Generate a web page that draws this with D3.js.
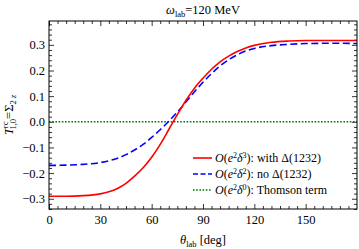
<!DOCTYPE html>
<html>
<head>
<meta charset="utf-8">
<script src="https://cdn.jsdelivr.net/npm/d3@7"></script>
<style>
  body { margin: 0; background: #fff; }
  svg text { font-family: "Liberation Serif", "DejaVu Serif", serif; fill: #000; }
  .tick line { stroke: #000; stroke-width: 0.8; }
</style>
</head>
<body>
<div id="chart"></div>
<script>
// data
var angles = [0, 10, 20, 30, 35, 40, 45, 50, 55, 60, 65, 70, 75, 80, 85, 90, 95, 100, 105, 110, 115, 120, 130, 140, 150, 160, 170, 180];
var withDelta = [-0.290, -0.290, -0.288, -0.281, -0.273, -0.260, -0.240, -0.212, -0.179, -0.138, -0.088, -0.030, 0.028, 0.083, 0.131, 0.170, 0.205, 0.234, 0.256, 0.274, 0.288, 0.298, 0.310, 0.315, 0.317, 0.317, 0.317, 0.317];
var noDelta = [-0.170, -0.169, -0.166, -0.159, -0.152, -0.142, -0.128, -0.110, -0.088, -0.061, -0.031, 0.002, 0.038, 0.077, 0.117, 0.154, 0.188, 0.218, 0.242, 0.261, 0.276, 0.286, 0.297, 0.302, 0.305, 0.306, 0.306, 0.305];
var thomson = angles.map(function () { return 0; });
var xTicks = [0, 30, 60, 90, 120, 150];
var yTicks = [-0.3, -0.2, -0.1, 0.0, 0.1, 0.2, 0.3];

var svgWidth = 359, svgHeight = 249;
var margin = { top: 21, right: 2, bottom: 40, left: 49 };
var width = svgWidth - margin.left - margin.right;
var height = svgHeight - margin.top - margin.bottom;

var svg = d3.select("#chart").append("svg")
    .attr("width", svgWidth)
    .attr("height", svgHeight);

var chartGroup = svg.append("g")
    .attr("transform", `translate(${margin.left}, ${margin.top})`);

var x = d3.scaleLinear().domain([0, 180]).range([0, width]);
var y = d3.scaleLinear().domain([-0.34, 0.393]).range([height, 0]);

var xMinor = d3.range(0, 181, 5).filter(d => d % 30 !== 0);
var yMinor = d3.range(-34, 40, 2).map(d => d / 100).filter(d => Math.abs(Math.round(d * 100) % 10) !== 0);

function tickAxis(axis, vals, size, labels) {
    return axis.tickValues(vals).tickSize(-size).tickSizeOuter(0)
        .tickFormat(labels ? (d => d3.format(".1f")(d).replace("-", "\u2212")) : "");
}

// bottom
chartGroup.append("g").attr("transform", `translate(0, ${height})`)
    .call(d3.axisBottom(x).tickValues(xTicks).tickSize(-5).tickPadding(6).tickFormat(d3.format("d")));
chartGroup.append("g").attr("transform", `translate(0, ${height})`)
    .call(d3.axisBottom(x).tickValues(xMinor).tickSize(-3).tickFormat(""));
// top
chartGroup.append("g").call(d3.axisTop(x).tickValues(xTicks).tickSize(-5).tickFormat(""));
chartGroup.append("g").call(d3.axisTop(x).tickValues(xMinor).tickSize(-3).tickFormat(""));
// left
chartGroup.append("g").call(tickAxis(d3.axisLeft(y), yTicks, 5, true).tickPadding(4));
chartGroup.append("g").call(tickAxis(d3.axisLeft(y), yMinor, 3, false));
// right
chartGroup.append("g").attr("transform", `translate(${width}, 0)`).call(tickAxis(d3.axisRight(y), yTicks, 5, false));
chartGroup.append("g").attr("transform", `translate(${width}, 0)`).call(tickAxis(d3.axisRight(y), yMinor, 3, false));

chartGroup.selectAll(".domain").remove();
chartGroup.selectAll(".tick text").style("font-size", "12.5px").style("font-family", "Liberation Serif");

svg.append("clipPath").attr("id", "clip").append("rect")
    .attr("width", width).attr("height", height);

var line = d3.line()
    .x((d, i) => x(angles[i]))
    .y(d => y(d))
    .curve(d3.curveMonotoneX);

var series = [
    { values: thomson, color: "#007800", dash: "1.6,1.6", width: 1.5 },
    { values: noDelta, color: "#0000ff", dash: "7,3.5", width: 1.6 },
    { values: withDelta, color: "#ff0000", dash: null, width: 1.6 }
];

chartGroup.append("g").attr("clip-path", "url(#clip)")
    .selectAll("path").data(series).enter().append("path")
    .attr("d", d => line(d.values))
    .attr("fill", "none")
    .attr("stroke", d => d.color)
    .attr("stroke-width", d => d.width)
    .attr("stroke-dasharray", d => d.dash);

// frame
chartGroup.append("rect")
    .attr("width", width).attr("height", height)
    .attr("fill", "none").attr("stroke", "#000").attr("stroke-width", 1);

// legend
var legendItems = [
    { color: "#ff0000", dash: null, ord: "3", text: ": with \u0394(1232)" },
    { color: "#0000ff", dash: "5,2.5", ord: "2", text: ": no \u0394(1232)" },
    { color: "#007800", dash: "1.6,1.6", ord: "0", text: ": Thomson term" }
];
var legend = svg.append("g").attr("transform", "translate(193, 158)");
legendItems.forEach(function (d, i) {
    var row = legend.append("g").attr("transform", `translate(0, ${i * 16})`);
    row.append("line").attr("x1", 0).attr("x2", 19).attr("y1", 0).attr("y2", 0)
        .attr("stroke", d.color).attr("stroke-width", 1.6).attr("stroke-dasharray", d.dash);
    var t = row.append("text").attr("x", 22).attr("y", 4).style("font-size", "12px");
    t.append("tspan").style("font-style", "italic").text("O");
    t.append("tspan").text("(");
    t.append("tspan").style("font-style", "italic").text("e");
    t.append("tspan").attr("dy", -4).style("font-size", "8px").text("2");
    t.append("tspan").attr("dy", 4).style("font-style", "italic").text("\u03b4");
    t.append("tspan").attr("dy", -4).style("font-size", "8px").text(d.ord);
    t.append("tspan").attr("dy", 4).text(")" + d.text);
});

// title
var title = svg.append("text").attr("x", margin.left + width / 2).attr("y", 14)
    .attr("text-anchor", "middle").style("font-size", "12.5px");
title.append("tspan").style("font-style", "italic").text("\u03c9");
title.append("tspan").attr("dy", 3).style("font-size", "8.5px").text("lab");
title.append("tspan").attr("dy", -3).text("=120 MeV");

// x label
var xl = svg.append("text").attr("x", margin.left + width / 2).attr("y", 244)
    .attr("text-anchor", "middle").style("font-size", "12.5px");
xl.append("tspan").style("font-style", "italic").text("\u03b8");
xl.append("tspan").attr("dy", 3).style("font-size", "8.5px").text("lab");
xl.append("tspan").attr("dy", -3).text(" [deg]");

// y label
var yl = svg.append("text")
    .attr("transform", `translate(13, ${margin.top + height / 2}) rotate(-90)`)
    .attr("text-anchor", "middle").style("font-size", "12.5px");
yl.append("tspan").style("font-style", "italic").text("T");
yl.append("tspan").attr("dy", -5).style("font-size", "8.5px").text("rc");
yl.append("tspan").attr("dx", -8).attr("dy", 8).style("font-size", "8.5px").text("1,0");
yl.append("tspan").attr("dy", -3).text("=\u03a3");
yl.append("tspan").attr("dy", 3).style("font-size", "8.5px").text("2");
yl.append("tspan").style("font-size", "8.5px").style("font-style", "italic").text(" z");
</script>
</body>
</html>
